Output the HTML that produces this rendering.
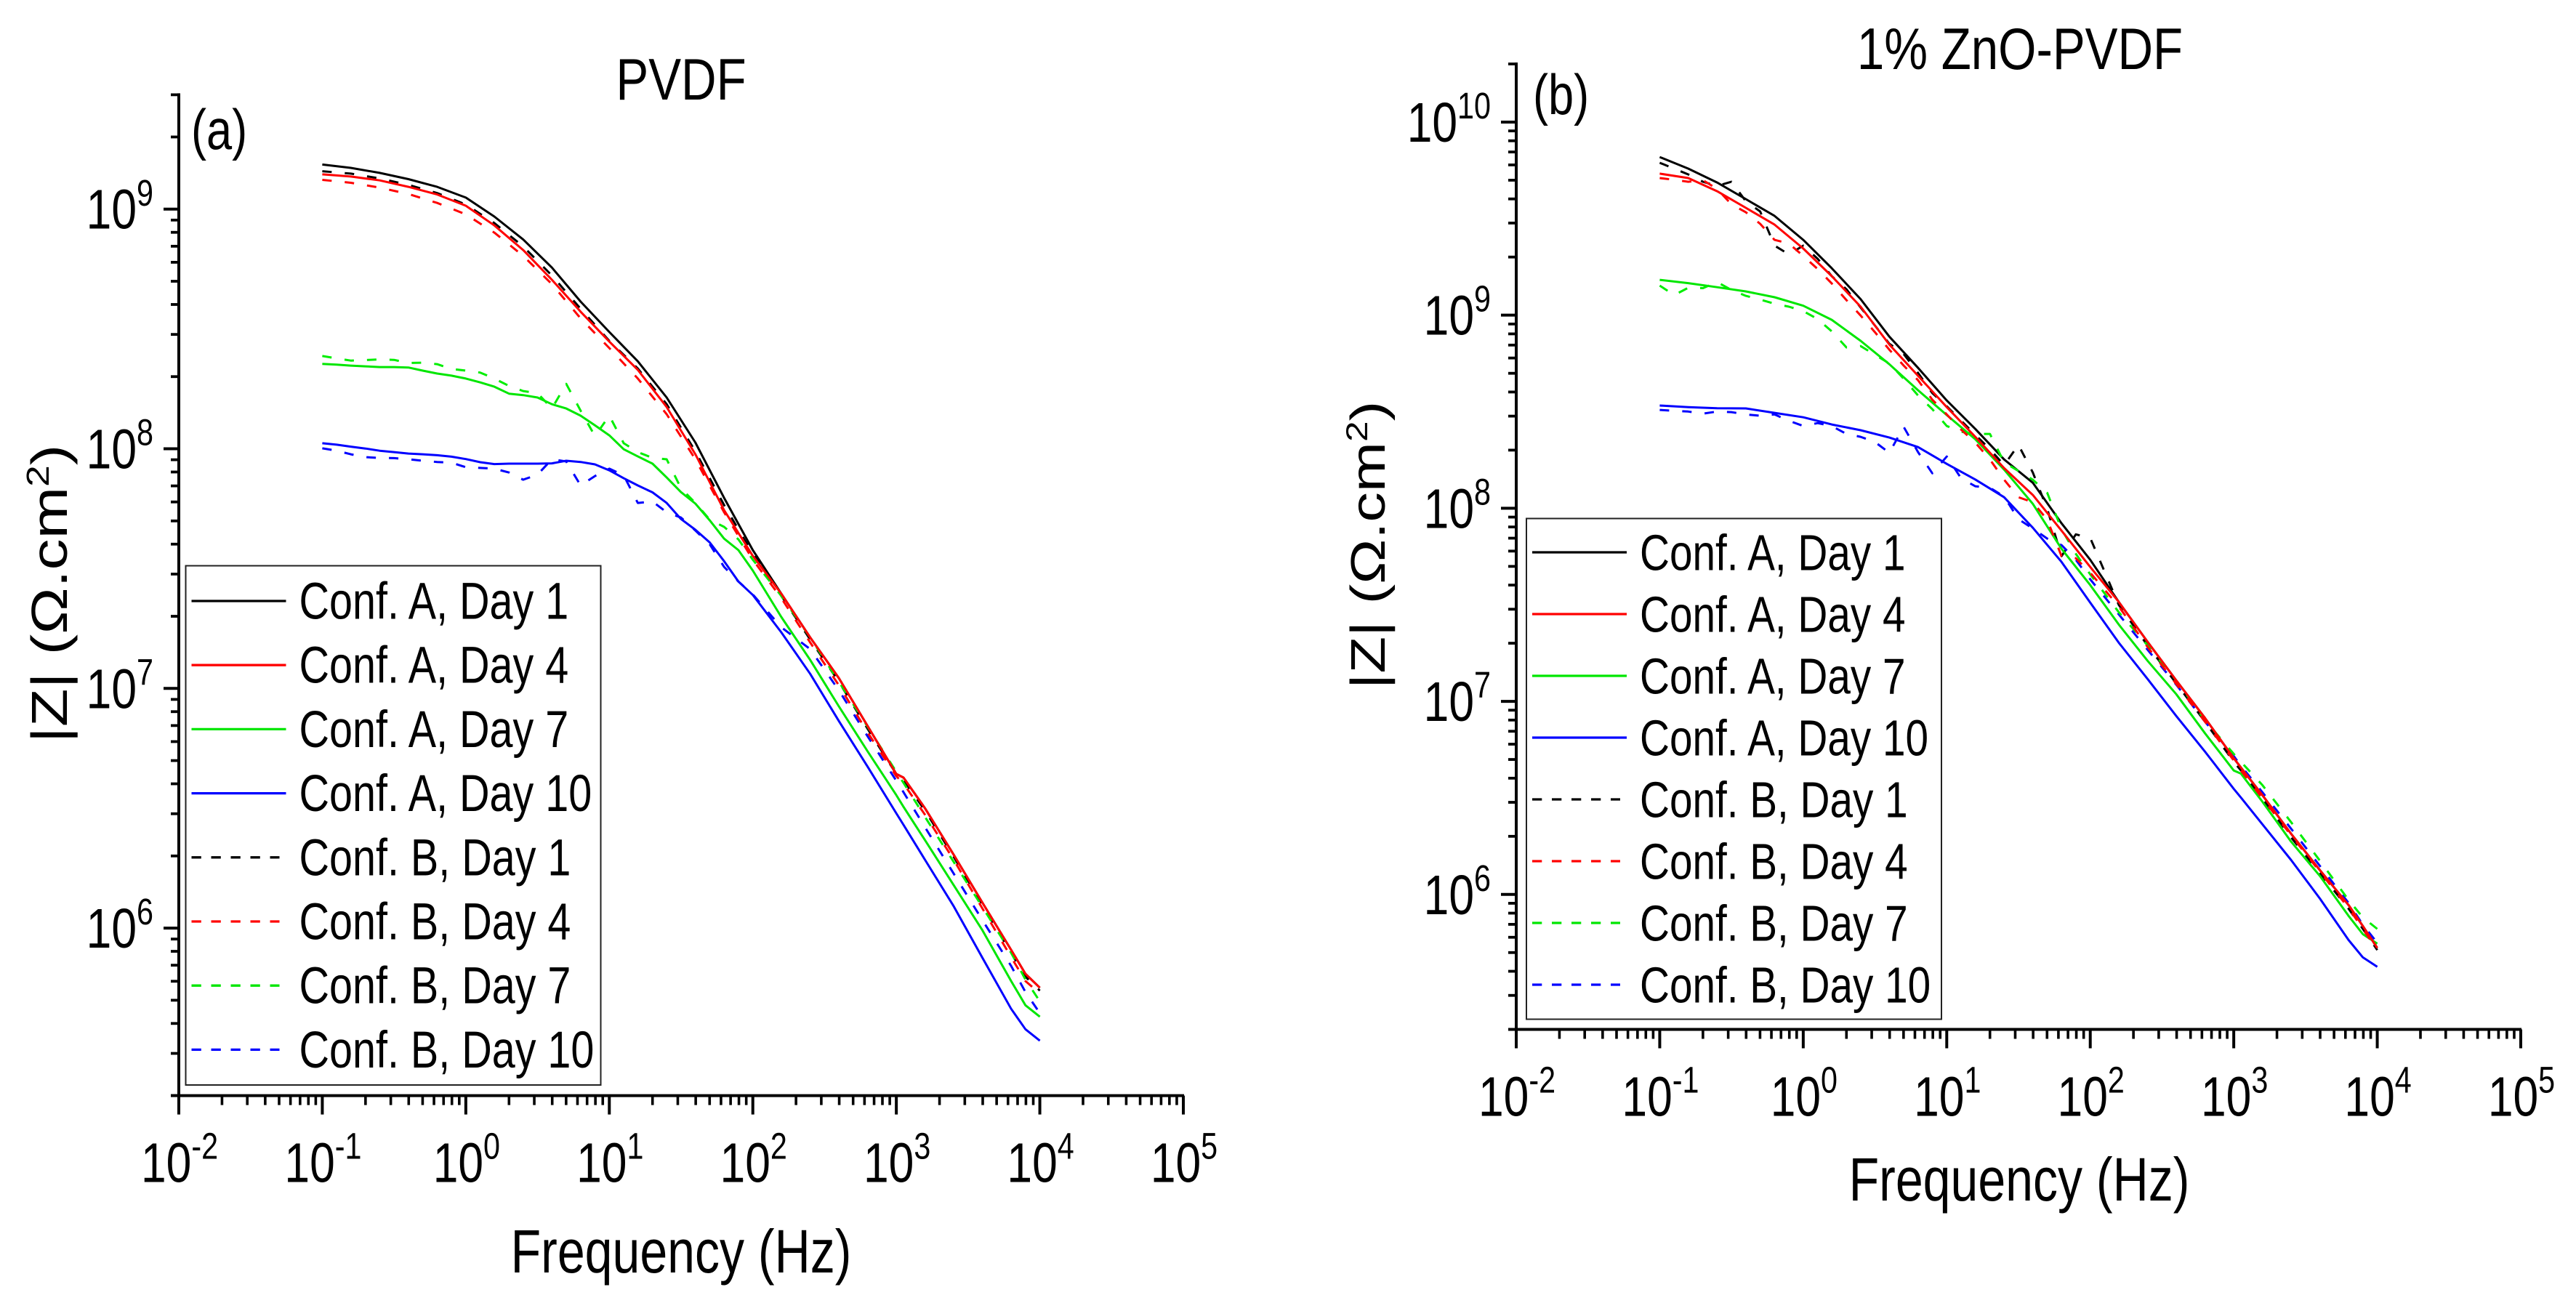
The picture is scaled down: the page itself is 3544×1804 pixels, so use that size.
<!DOCTYPE html>
<html lang="en">
<head>
<meta charset="utf-8">
<title>Bode impedance plots: PVDF and 1% ZnO-PVDF</title>
<style>
html,body{margin:0;padding:0;background:#fff;}
svg{display:block;font-family:"Liberation Sans",sans-serif;fill:#000;}
</style>
</head>
<body>
<svg id="figure" xmlns="http://www.w3.org/2000/svg" width="3544" height="1804" viewBox="0 0 3544 1804"></svg>
<script>
// Frequencies in Hz
const freqCoarse=[0.1,0.158,0.251,0.398,0.631,1,1.58,2.51,3.98,6.31,10,15.8,25.1,39.8,63.1,100,158,251,398,631,1000,1122,1585,2512,3981,6310,7943,10000];
const freqFine=[0.1,0.126,0.158,0.2,0.251,0.316,0.398,0.501,0.631,0.794,1,1.26,1.58,2,2.51,3.16,3.98,5.01,6.31,7.94,10,12.6,15.8,20,25.1,31.6,39.8,50.1,63.1,79.4,100,158,251,398,631,1000,1122,1585,2512,3981,6310,7943,10000];

// Axis tick exponents
const xTickExponents=[-2,-1,0,1,2,3,4,5];
const yTickExponentsA=[6,7,8,9];
const yTickExponentsB=[6,7,8,9,10];

// Legend labels
const legendLabels=["Conf. A, Day 1","Conf. A, Day 4","Conf. A, Day 7","Conf. A, Day 10","Conf. B, Day 1","Conf. B, Day 4","Conf. B, Day 7","Conf. B, Day 10"];

// Panel (a) PVDF: log10 |Z|
const a_confA_day1=[9.186,9.172,9.151,9.125,9.093,9.048,8.969,8.873,8.756,8.614,8.487,8.365,8.214,8.026,7.795,7.577,7.395,7.213,7.043,6.843,6.643,6.628,6.500,6.306,6.106,5.909,5.809,5.751];
const a_confA_day4=[9.145,9.136,9.120,9.093,9.061,9.014,8.932,8.829,8.705,8.572,8.447,8.329,8.174,7.977,7.744,7.553,7.395,7.213,7.043,6.843,6.643,6.628,6.500,6.306,6.106,5.909,5.809,5.751];
const a_confA_day7=[8.354,8.351,8.347,8.344,8.341,8.341,8.339,8.326,8.314,8.305,8.293,8.277,8.259,8.230,8.224,8.214,8.186,8.168,8.138,8.098,8.056,7.998,7.968,7.938,7.880,7.819,7.771,7.701,7.625,7.577,7.492,7.298,7.119,6.925,6.737,6.555,6.506,6.367,6.179,5.991,5.779,5.678,5.630];
const a_confA_day10=[8.023,8.017,8.009,8.001,7.992,7.986,7.980,7.977,7.973,7.967,7.957,7.944,7.936,7.938,7.938,7.938,7.939,7.950,7.945,7.935,7.910,7.877,7.847,7.818,7.774,7.707,7.662,7.609,7.531,7.446,7.390,7.234,7.061,6.864,6.673,6.479,6.431,6.285,6.091,5.876,5.663,5.578,5.530];
const a_confB_day1=[9.158,9.148,9.128,9.101,9.067,9.019,8.942,8.844,8.723,8.584,8.450,8.335,8.186,7.989,7.765,7.562,7.386,7.204,7.028,6.831,6.643,6.616,6.491,6.297,6.097,5.897,5.797,5.739];
const a_confB_day4=[9.122,9.110,9.090,9.063,9.026,8.978,8.902,8.805,8.687,8.544,8.420,8.293,8.144,7.956,7.735,7.537,7.377,7.192,7.013,6.816,6.634,6.603,6.473,6.285,6.082,5.879,5.779,5.727];
const a_confB_day7=[8.387,8.377,8.368,8.370,8.373,8.371,8.358,8.359,8.353,8.333,8.326,8.318,8.293,8.262,8.241,8.232,8.168,8.271,8.159,8.053,8.138,8.023,7.986,7.962,7.956,7.835,7.774,7.704,7.674,7.622,7.537,7.386,7.213,7.028,6.840,6.652,6.606,6.464,6.276,6.088,5.897,5.785,5.694];
const a_confB_day10=[8.002,7.992,7.977,7.965,7.962,7.961,7.956,7.950,7.945,7.942,7.923,7.920,7.917,7.901,7.871,7.892,7.956,7.947,7.847,7.886,7.917,7.889,7.774,7.780,7.735,7.713,7.659,7.601,7.507,7.446,7.392,7.255,7.164,6.992,6.800,6.615,6.567,6.421,6.227,6.033,5.842,5.733,5.645];

// Panel (b) 1% ZnO-PVDF: log10 |Z|
const b_confA_day1=[9.819,9.759,9.687,9.601,9.514,9.390,9.243,9.083,8.889,8.727,8.558,8.411,8.253,8.132,7.922,7.733,7.515,7.308,7.108,6.913,6.706,6.657,6.514,6.314,6.126,5.945,5.836,5.723];
const b_confA_day4=[9.733,9.710,9.642,9.556,9.469,9.345,9.202,9.044,8.848,8.686,8.524,8.370,8.208,8.069,7.884,7.696,7.515,7.308,7.108,6.913,6.706,6.657,6.514,6.314,6.126,5.945,5.836,5.723];
const b_confA_day7=[9.183,9.166,9.145,9.123,9.093,9.049,8.976,8.867,8.746,8.611,8.483,8.358,8.200,8.023,7.790,7.602,7.398,7.210,7.037,6.834,6.642,6.626,6.480,6.273,6.096,5.889,5.794,5.745];
const b_confA_day10=[8.532,8.524,8.518,8.517,8.494,8.471,8.434,8.404,8.366,8.317,8.230,8.149,8.057,7.899,7.722,7.511,7.304,7.116,6.924,6.739,6.547,6.502,6.363,6.178,5.979,5.764,5.674,5.625];
const b_confB_day1=[9.789,9.759,9.729,9.691,9.669,9.691,9.590,9.537,9.360,9.315,9.360,9.292,9.202,9.134,9.040,8.946,8.852,8.799,8.701,8.596,8.528,8.453,8.381,8.306,8.223,8.328,8.185,7.997,7.752,7.865,7.846,7.500,7.289,7.093,6.894,6.687,6.642,6.498,6.295,6.111,5.926,5.821,5.712];
const b_confB_day4=[9.710,9.701,9.691,9.699,9.654,9.574,9.533,9.473,9.390,9.371,9.307,9.239,9.164,9.078,8.998,8.912,8.821,8.739,8.663,8.562,8.486,8.407,8.340,8.253,8.148,8.057,8.031,7.941,7.752,7.741,7.666,7.492,7.282,7.090,6.894,6.694,6.642,6.498,6.306,6.118,5.930,5.821,5.712];
const b_confB_day7=[9.153,9.104,9.142,9.140,9.172,9.130,9.100,9.081,9.059,9.044,9.021,8.980,8.916,8.833,8.840,8.795,8.750,8.671,8.584,8.513,8.426,8.396,8.385,8.385,8.238,8.193,8.148,8.080,7.892,7.764,7.658,7.462,7.289,7.108,6.901,6.728,6.687,6.566,6.374,6.175,5.971,5.881,5.821];
const b_confB_day10=[8.509,8.505,8.501,8.490,8.501,8.498,8.486,8.479,8.486,8.453,8.426,8.441,8.426,8.385,8.370,8.343,8.287,8.422,8.291,8.181,8.268,8.155,8.114,8.106,8.061,7.944,7.895,7.843,7.809,7.733,7.632,7.451,7.267,7.086,6.894,6.717,6.666,6.529,6.340,6.148,5.956,5.843,5.749];

const SVGNS="http://www.w3.org/2000/svg";
const figure=document.getElementById("figure");
const SX=0.81;
const COLORS={1:"#000000",4:"#ff0000",7:"#00e600",10:"#0000ff"};
const SOFT_GREEN="#00ee00";

function mk(parent,tag,attrs){
  const el=document.createElementNS(SVGNS,tag);
  for(const k in attrs){el.setAttribute(k,attrs[k]);}
  parent.appendChild(el);
  return el;
}
function condensedText(parent,x,y,str,size,anchor,sx){
  const t=mk(parent,"text",{transform:"translate("+x+" "+y+") scale("+(sx||SX)+" 1)","font-size":size,"text-anchor":anchor||"start"});
  t.textContent=str;
  return t;
}
function powerLabel(parent,x,y,exp,anchor){
  const t=mk(parent,"text",{transform:"translate("+x+" "+y+") scale("+SX+" 1)","font-size":77,"text-anchor":anchor});
  t.appendChild(document.createTextNode("10"));
  const s=mk(t,"tspan",{"font-size":51,dy:-32});
  s.textContent=String(exp);
  return t;
}

function drawPanel(p){
  const g=mk(figure,"g",{});
  
  

  const xMin=xTickExponents[0], xMax=xTickExponents[xTickExponents.length-1];
  const xScale=function(logF){return p.x0+(logF-xMin)/(xMax-xMin)*(p.x1-p.x0);};
  const yScale=function(logZ){return p.yTop+(p.logMax-logZ)/(p.logMax-p.logMin)*(p.yBottom-p.yTop);};

  // title and panel tag
  const title=condensedText(g,p.titleX,p.titleY,p.title,81,"middle",0.83);
  
  
  const tag=condensedText(g,p.tagX,p.tagY,p.tag,78,"start");
  
  

  // axes
  const xAxis=mk(g,"g",{stroke:"#000",fill:"none"});
  
  
  mk(xAxis,"line",{x1:p.x0-11,x2:p.x1+1,y1:p.yBottom,y2:p.yBottom,"stroke-width":4});
  xTickExponents.forEach(function(e,i){
    const X=xScale(e);
    const tick=mk(xAxis,"line",{x1:X,x2:X,y1:p.yBottom,y2:p.yBottom+26,"stroke-width":4});
    
    
    if(i<xTickExponents.length-1){
      for(let m=2;m<10;m++){
        const Xm=xScale(e+Math.log10(m));
        const minor=mk(xAxis,"line",{x1:Xm,x2:Xm,y1:p.yBottom,y2:p.yBottom+13,"stroke-width":3.6});
        
        
      }
    }
    const lab=powerLabel(g,X+1,p.yBottom+119,e,"middle");
    
    
  });

  const yAxis=mk(g,"g",{stroke:"#000",fill:"none"});
  
  
  mk(yAxis,"line",{x1:p.x0,x2:p.x0,y1:p.yTop-2,y2:p.yBottom+2,"stroke-width":4});
  for(let d=Math.floor(p.logMin);d<Math.ceil(p.logMax);d++){
    for(let m=1;m<10;m++){
      const L=d+Math.log10(m);
      if(L<p.logMin-0.001||L>p.logMax+0.001){continue;}
      const Y=yScale(L);
      const minor=mk(yAxis,"line",{x1:p.x0-(m===1?21:11),x2:p.x0,y1:Y,y2:Y,"stroke-width":m===1?4:3.8});
      
      
    }
  }
  p.yTicks.forEach(function(e){
    const lab=powerLabel(g,p.x0-35,yScale(e)+27,e,"end");
    
    
  });

  // axis titles
  const xTitle=condensedText(g,p.xTitleX,p.xTitleY,"Frequency (Hz)",84,"middle");
  
  
  const yTitle=mk(g,"text",{transform:"translate("+p.yTitleX+" "+p.yTitleY+") scale("+SX+" 1) rotate(-90)","font-size":p.yTitleSize,"text-anchor":"middle"});
  
  
  yTitle.appendChild(document.createTextNode("|Z| (Ω.cm"));
  const sup=mk(yTitle,"tspan",{"font-size":p.yTitleSize*0.62,dy:-p.yTitleSize*0.36});
  sup.textContent="2";
  const close=mk(yTitle,"tspan",{dy:p.yTitleSize*0.36});
  close.textContent=")";

  // series
  p.series.forEach(function(s){
    let d="";
    s.values.forEach(function(v,i){
      d+=(i?"L":"M")+xScale(Math.log10(s.freq[i])).toFixed(1)+" "+yScale(v).toFixed(1);
    });
    const path=mk(g,"path",{d:d,fill:"none",stroke:s.color,"stroke-width":3,"stroke-linejoin":"round"});
    if(s.dashed){path.setAttribute("stroke-dasharray","13 18");}
    
    
  });

  // legend
  const legend=mk(g,"g",{});
  
  
  mk(legend,"rect",{x:p.legendX,y:p.legendY,width:p.legendW,height:p.legendH,fill:"#fff",stroke:"#222","stroke-width":2});
  legendLabels.forEach(function(label,i){
    const isDash=i>=4;
    const days=[1,4,7,10];
    const color=COLORS[days[i%4]];
    const Y=p.legendRow0+i*p.legendStep;
    const entry=mk(legend,"g",{});
    
    
    const sample=mk(entry,"line",{x1:p.legendX+8,x2:p.legendX+(isDash?129:138),y1:Y,y2:Y,stroke:color,"stroke-width":3.3});
    if(isDash){sample.setAttribute("stroke-dasharray","13.3 13.7");}
    
    
    const txt=condensedText(entry,p.legendX+156,Y+24.5,label,p.legendFont,"start");
    
    
  });
}

drawPanel({
  name:"panel-a-pvdf",title:"PVDF",tag:"(a)",
  x0:246,x1:1628,yTop:130.4,yBottom:1507.6,logMin:Math.log10(2e5),logMax:Math.log10(3e9),yTicks:yTickExponentsA,
  titleX:937,titleY:137,tagX:263,tagY:205,
  xTitleX:937,xTitleY:1751,yTitleX:92,yTitleY:817,yTitleSize:86,
  legendX:255.5,legendY:778.5,legendW:571,legendH:714.5,legendRow0:827,legendStep:88.2,legendFont:71,
  series:[
    {label:"conf-a-day-1-line",freq:freqCoarse,values:a_confA_day1,color:COLORS[1]},
    {label:"conf-b-day-1-line",freq:freqCoarse,values:a_confB_day1,color:COLORS[1],dashed:true},
    {label:"conf-a-day-10-line",freq:freqFine,values:a_confA_day10,color:COLORS[10]},
    {label:"conf-b-day-10-line",freq:freqFine,values:a_confB_day10,color:COLORS[10],dashed:true},
    {label:"conf-a-day-7-line",freq:freqFine,values:a_confA_day7,color:COLORS[7]},
    {label:"conf-b-day-7-line",freq:freqFine,values:a_confB_day7,color:SOFT_GREEN,dashed:true},
    {label:"conf-b-day-4-line",freq:freqCoarse,values:a_confB_day4,color:COLORS[4],dashed:true},
    {label:"conf-a-day-4-line",freq:freqCoarse,values:a_confA_day4,color:COLORS[4]}
  ]
});
drawPanel({
  name:"panel-b-zno-pvdf",title:"1% ZnO-PVDF",tag:"(b)",
  x0:2086,x1:3468,yTop:88,yBottom:1416.5,logMin:Math.log10(2e5),logMax:Math.log10(2e10),yTicks:yTickExponentsB,
  titleX:2779,titleY:95,tagX:2109,tagY:157,
  xTitleX:2778,xTitleY:1652,yTitleX:1905,yTitleY:750,yTitleSize:83,
  legendX:2100,legendY:713.5,legendW:571,legendH:689,legendRow0:760,legendStep:85,legendFont:70,
  series:[
    {label:"conf-a-day-1-line",freq:freqCoarse,values:b_confA_day1,color:COLORS[1]},
    {label:"conf-b-day-1-line",freq:freqFine,values:b_confB_day1,color:COLORS[1],dashed:true},
    {label:"conf-a-day-10-line",freq:freqCoarse,values:b_confA_day10,color:COLORS[10]},
    {label:"conf-b-day-10-line",freq:freqFine,values:b_confB_day10,color:COLORS[10],dashed:true},
    {label:"conf-a-day-7-line",freq:freqCoarse,values:b_confA_day7,color:COLORS[7]},
    {label:"conf-b-day-7-line",freq:freqFine,values:b_confB_day7,color:SOFT_GREEN,dashed:true},
    {label:"conf-b-day-4-line",freq:freqFine,values:b_confB_day4,color:COLORS[4],dashed:true},
    {label:"conf-a-day-4-line",freq:freqCoarse,values:b_confA_day4,color:COLORS[4]}
  ]
});
</script>
</body>
</html>
